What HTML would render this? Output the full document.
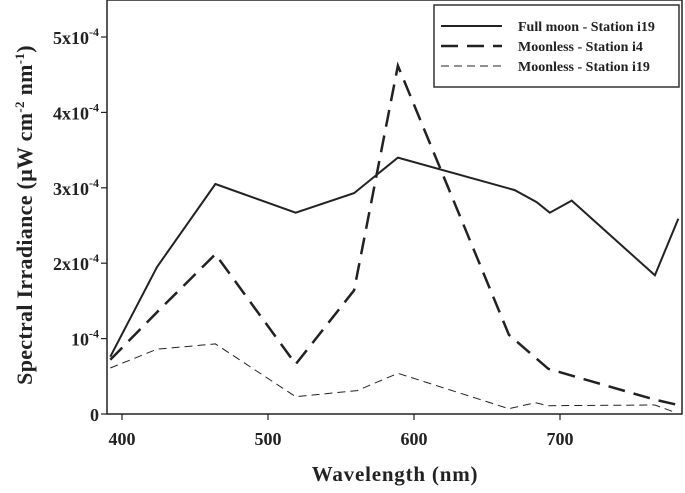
<!DOCTYPE html>
<html><head><meta charset="utf-8"><style>
body{margin:0;background:#fff}
svg{display:block;font-family:"Liberation Serif",serif;font-weight:bold}
</style></head><body>
<svg width="685" height="493">
<rect x="107" y="0" width="575" height="414" fill="none" stroke="#222" stroke-width="1.5"/>
<g id="axes"></g>
<g id="series"></g>
<text x="395" y="481" font-size="21" text-anchor="middle" fill="#222" letter-spacing="0.8">Wavelength (nm)</text>
<text transform="translate(32,215) rotate(-90)" font-size="22" text-anchor="middle" fill="#222" letter-spacing="0.3">Spectral Irradiance (μW cm<tspan dy="-8" font-size="13">-2</tspan><tspan dy="8"> nm</tspan><tspan dy="-8" font-size="13">-1</tspan><tspan dy="8">)</tspan></text>
<g>
<rect x="434" y="5" width="245" height="82" fill="#fff" stroke="#333" stroke-width="1.5"/>
<line x1="441" y1="26" x2="502" y2="26" stroke="#222" stroke-width="2"/>
<line x1="441" y1="46" x2="502" y2="46" stroke="#222" stroke-width="2.5" stroke-dasharray="17,9"/>
<line x1="441" y1="66" x2="502" y2="66" stroke="#222" stroke-width="1" stroke-dasharray="8,5"/>
<text x="518" y="31" font-size="14" fill="#222">Full moon - Station i19</text>
<text x="518" y="51" font-size="14" fill="#222">Moonless - Station i4</text>
<text x="518" y="71" font-size="14" fill="#222">Moonless - Station i19</text>
</g>
</svg>
<script>
const xTicks=[400,500,600,700];
const yTicks=[0,1,2,3,4,5];
const fullMoonWl=[392,424,464,519,559,589,669,684,693,708,765,781];
const fullMoonVal=[0.76,1.95,3.05,2.67,2.93,3.40,2.97,2.81,2.67,2.83,1.84,2.59];
const i4Wl=[392,424,464,519,559,589,665,692,765,781];
const i4Val=[0.72,1.35,2.12,0.66,1.64,4.62,1.05,0.60,0.19,0.12];
const i19Wl=[392,424,464,519,561,589,665,683,692,765,779];
const i19Val=[0.61,0.86,0.93,0.23,0.31,0.54,0.07,0.15,0.11,0.12,0.02];
const NS='http://www.w3.org/2000/svg';
const X=l=>122+1.46*(l-400);
const Y=v=>414-75.4*v;
const axes=document.getElementById('axes'),ser=document.getElementById('series');
function mk(t,a,p){const e=document.createElementNS(NS,t);for(const k in a)e.setAttribute(k,a[k]);p.appendChild(e);return e;}
xTicks.forEach(t=>{
 const l=mk('line',{x1:X(t),x2:X(t),y1:414,y2:420,stroke:'#222','stroke-width':1.2},axes);
 
 
 const tx=mk('text',{x:X(t),y:445,'font-size':18,'text-anchor':'middle',fill:'#222'},axes);
 tx.textContent=t;
 
 
});
yTicks.forEach(t=>{
 const l=mk('line',{x1:101,x2:107,y1:Y(t),y2:Y(t),stroke:'#222','stroke-width':1.2},axes);
 
 
 const tx=mk('text',{x:99,y:Y(t)+7,'font-size':18,'text-anchor':'end',fill:'#222'},axes);
 
 
 if(t===0)tx.textContent='0';
 else tx.innerHTML=(t===1?'':t+'x')+'10<tspan dy="-8" font-size="12">-4</tspan>';
});
function line(w,v,sw,dash,name){
 const d=w.map((l,i)=>(i?'L':'M')+X(l).toFixed(1)+','+Y(v[i]).toFixed(1)).join('');
 const p=mk('path',{d:d,fill:'none',stroke:'#222','stroke-width':sw,'stroke-dasharray':dash,'stroke-linejoin':'miter'},ser);
 
 
}
line(fullMoonWl,fullMoonVal,2,'none','full-moon-i19-line');
line(i4Wl,i4Val,2.5,'17,9','moonless-i4-line');
line(i19Wl,i19Val,1,'8,5','moonless-i19-line');
</script>
</body></html>
